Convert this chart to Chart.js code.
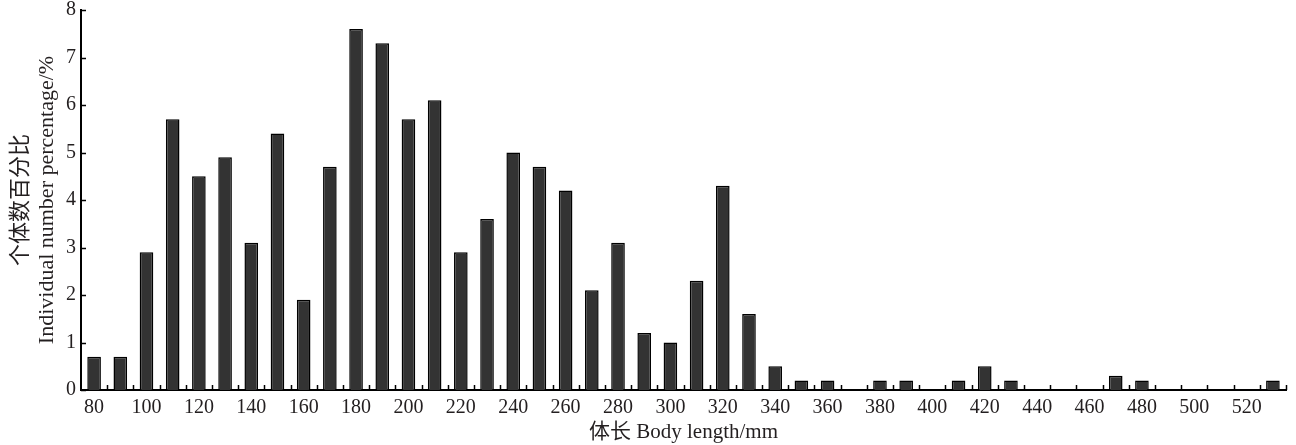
<!DOCTYPE html>
<html>
<head>
<meta charset="utf-8">
<script src="https://cdn.jsdelivr.net/npm/chart.js@4/dist/chart.umd.min.js"></script>
<style>
  html, body { margin: 0; padding: 0; background: #fff; }
  #wrap { width: 1296px; height: 445px; }
</style>
</head>
<body>
<div id="wrap"><canvas id="bodyLengthChart" width="1296" height="445"></canvas></div>
<script>
/* Body length distribution — percentage of individuals per 10 mm class */

const lengthClasses = [80, 90, 100, 110, 120, 130, 140, 150, 160, 170,
                       180, 190, 200, 210, 220, 230, 240, 250, 260, 270,
                       280, 290, 300, 310, 320, 330, 340, 350, 360, 370,
                       380, 390, 400, 410, 420, 430, 440, 450, 460, 470,
                       480, 490, 500, 510, 520, 530];

const percentValues = [0.7, 0.7, 2.9, 5.7, 4.5, 4.9, 3.1, 5.4, 1.9, 4.7,
                       7.6, 7.3, 5.7, 6.1, 2.9, 3.6, 5.0, 4.7, 4.2, 2.1,
                       3.1, 1.2, 1.0, 2.3, 4.3, 1.6, 0.5, 0.2, 0.2, 0,
                       0.2, 0.2, 0, 0.2, 0.5, 0.2, 0, 0, 0, 0.3,
                       0.2, 0, 0, 0, 0, 0.2];

const yTicks = [0, 1, 2, 3, 4, 5, 6, 7, 8];

const yTitle = ['个体数百分比', 'Individual number percentage/%'];
const xTitle = '体长 Body length/mm';

const FONT = "'Liberation Serif', 'Times New Roman', 'Noto Sans CJK SC', serif";
const INK  = '#231f20';

// ── Inward tick marks (drawn from the library's scales) ───────────────────
const inwardTicks = {
    id: 'inwardTicks',
    afterDraw(chart) {
        const { ctx, chartArea, scales: { x, y } } = chart;
        const len = 5;
        ctx.save();
        ctx.strokeStyle = '#000';
        ctx.lineWidth = 1.5;
        ctx.beginPath();
        // x ticks at class boundaries
        for (let i = 0; i < lengthClasses.length; i++) {
            let bx;
            if (i === lengthClasses.length - 1) bx = chartArea.right;
            else bx = (x.getPixelForValue(i) + x.getPixelForValue(i + 1)) / 2;
            bx = Math.round(bx) + 0.5;
            ctx.moveTo(bx, chartArea.bottom);
            ctx.lineTo(bx, chartArea.bottom - len);
        }
        // y ticks at integers
        yTicks.forEach(v => {
            const py = Math.round(y.getPixelForValue(v)) + 0.5;
            ctx.moveTo(chartArea.left, py);
            ctx.lineTo(chartArea.left + len, py);
        });
        ctx.stroke();
        ctx.restore();
    }
};

const ctx = document.getElementById('bodyLengthChart').getContext('2d');
new Chart(ctx, {
    type: 'bar',
    data: {
        labels: lengthClasses.map(String),
        datasets: [{
            data: percentValues,
            backgroundColor: '#333333',
            borderColor: '#000000',
            borderWidth: 1.5,
            barPercentage: 0.52,
            categoryPercentage: 1.0
        }]
    },
    options: {
        responsive: false,
        animation: false,
        layout: { padding: { top: 10, right: 10, left: 0, bottom: 0 } },
        plugins: {
            legend: { display: false },
            tooltip: { enabled: false }
        },
        scales: {
            x: {
                offset: true,
                grid: { display: false, drawTicks: false },
                border: { display: true, color: '#000', width: 2 },
                ticks: {
                    autoSkip: false,
                    maxRotation: 0,
                    padding: 6,
                    color: INK,
                    font: { family: FONT, size: 20 },
                    callback: (v, i) => (i % 2 === 0 ? lengthClasses[i] : '')
                },
                title: {
                    display: true,
                    text: xTitle,
                    color: INK,
                    font: { family: FONT, size: 21 },
                    padding: { top: 0, bottom: 0 }
                },
                afterFit: s => { s.height = 55; s.paddingLeft = 0; s.paddingRight = 0; }
            },
            y: {
                min: 0,
                max: 8,
                grid: { display: false, drawTicks: false },
                border: { display: true, color: '#000', width: 2 },
                ticks: {
                    stepSize: 1,
                    padding: 5,
                    color: INK,
                    font: { family: FONT, size: 20 }
                },
                title: {
                    display: true,
                    text: yTitle,
                    color: INK,
                    font: { family: FONT, size: 22 },
                    padding: { top: 8, bottom: 0 }
                },
                afterFit: s => { s.width = 81; s.paddingTop = 0; s.paddingBottom = 0; }
            }
        }
    },
    plugins: [inwardTicks]
});
</script>
</body>
</html>
